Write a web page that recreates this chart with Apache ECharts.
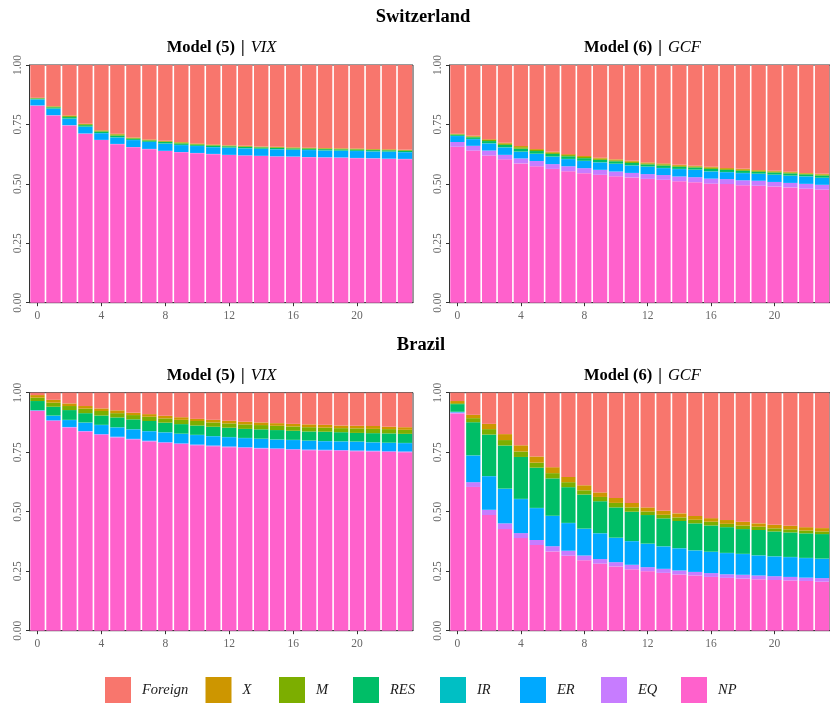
<!DOCTYPE html>
<html>
<head>
<meta charset="utf-8">
<script src="https://cdn.jsdelivr.net/npm/echarts@6/dist/echarts.min.js"></script>
<style>html,body{margin:0;padding:0;background:#fff}#c{width:830px;height:704px}</style>
</head>
<body>
<div id="c"></div>
<script>
// ---- categories / ticks ----
const horizons = ['0','1','2','3','4','5','6','7','8','9','10','11','12','13','14','15','16','17','18','19','20','21','22','23'];
const yTickLabels = ['0.00','0.25','0.50','0.75','1.00'];
const seriesNames = ['Foreign','X','M','RES','IR','ER','EQ','NP'];
const seriesColors = ['#F8766D','#CD9600','#7CAE00','#00BE67','#00BFC4','#00A9FF','#C77CFF','#FF61CC'];

// ---- Switzerland, Model (5) | VIX ----
const ch5_NP  = [0.829,0.788,0.746,0.711,0.684,0.667,0.654,0.646,0.638,0.633,0.629,0.625,0.621,0.619,0.617,0.615,0.614,0.612,0.611,0.610,0.608,0.607,0.605,0.604];
const ch5_EQ  = [0.001,0.001,0.001,0.001,0.001,0.001,0.001,0.001,0.001,0.001,0.001,0.001,0.001,0.001,0.001,0.001,0.001,0.001,0.001,0.001,0.001,0.001,0.001,0.001];
const ch5_ER  = [0.025,0.027,0.027,0.028,0.028,0.027,0.029,0.029,0.030,0.029,0.029,0.028,0.030,0.029,0.029,0.029,0.028,0.029,0.028,0.028,0.029,0.028,0.029,0.028];
const ch5_IR  = [0.001,0.001,0.001,0.001,0.001,0.001,0.001,0.001,0.001,0.001,0.001,0.001,0.001,0.001,0.001,0.001,0.001,0.001,0.001,0.001,0.001,0.001,0.001,0.001];
const ch5_RES = [0.003,0.005,0.006,0.006,0.006,0.007,0.005,0.005,0.006,0.006,0.005,0.006,0.005,0.005,0.005,0.005,0.005,0.005,0.005,0.005,0.005,0.005,0.005,0.005];
const ch5_M   = [0.002,0.003,0.004,0.004,0.004,0.005,0.003,0.003,0.003,0.004,0.003,0.003,0.003,0.003,0.003,0.003,0.003,0.003,0.003,0.003,0.003,0.003,0.003,0.003];
const ch5_X   = [0.001,0.002,0.003,0.002,0.002,0.003,0.002,0.002,0.002,0.002,0.002,0.002,0.001,0.002,0.001,0.002,0.002,0.001,0.002,0.002,0.002,0.002,0.002,0.001];
const ch5_F   = [0.138,0.173,0.212,0.247,0.274,0.289,0.305,0.313,0.319,0.324,0.330,0.334,0.338,0.340,0.343,0.344,0.346,0.348,0.349,0.350,0.351,0.353,0.354,0.357];

// ---- Switzerland, Model (6) | GCF ----
const ch6_NP  = [0.656,0.640,0.619,0.603,0.586,0.574,0.563,0.553,0.545,0.538,0.532,0.527,0.521,0.517,0.511,0.507,0.501,0.499,0.494,0.492,0.489,0.485,0.480,0.476];
const ch6_EQ  = [0.020,0.020,0.021,0.019,0.021,0.022,0.020,0.021,0.021,0.021,0.020,0.019,0.020,0.020,0.020,0.021,0.021,0.021,0.021,0.021,0.019,0.019,0.020,0.020];
const ch6_ER  = [0.025,0.028,0.030,0.031,0.028,0.030,0.031,0.030,0.030,0.031,0.032,0.031,0.031,0.029,0.031,0.031,0.030,0.029,0.030,0.029,0.030,0.030,0.031,0.029];
const ch6_IR  = [0.001,0.001,0.001,0.001,0.001,0.001,0.001,0.001,0.001,0.001,0.001,0.001,0.001,0.001,0.001,0.001,0.001,0.001,0.001,0.001,0.001,0.001,0.001,0.001];
const ch6_RES = [0.005,0.007,0.009,0.010,0.012,0.011,0.011,0.011,0.011,0.010,0.010,0.010,0.009,0.010,0.009,0.009,0.010,0.009,0.009,0.008,0.009,0.009,0.008,0.009];
const ch6_M   = [0.002,0.003,0.005,0.005,0.006,0.005,0.005,0.005,0.005,0.005,0.004,0.005,0.004,0.005,0.004,0.004,0.005,0.004,0.004,0.004,0.004,0.004,0.003,0.004];
const ch6_X   = [0.002,0.003,0.003,0.004,0.005,0.004,0.004,0.004,0.004,0.004,0.004,0.004,0.004,0.004,0.004,0.003,0.004,0.004,0.004,0.003,0.003,0.003,0.003,0.003];
const ch6_F   = [0.289,0.298,0.312,0.327,0.341,0.353,0.365,0.375,0.383,0.390,0.397,0.403,0.410,0.414,0.420,0.424,0.428,0.433,0.437,0.442,0.445,0.449,0.454,0.458];

// ---- Brazil, Model (5) | VIX ----
const br5_NP  = [0.923,0.881,0.853,0.836,0.823,0.812,0.803,0.795,0.789,0.784,0.779,0.775,0.771,0.768,0.765,0.763,0.760,0.758,0.757,0.756,0.754,0.753,0.751,0.750];
const br5_EQ  = [0.002,0.003,0.003,0.003,0.003,0.003,0.003,0.003,0.003,0.003,0.003,0.003,0.003,0.003,0.003,0.003,0.003,0.003,0.003,0.003,0.003,0.003,0.003,0.003];
const br5_ER  = [0.001,0.019,0.029,0.035,0.038,0.039,0.040,0.040,0.041,0.040,0.040,0.039,0.039,0.038,0.038,0.037,0.038,0.037,0.036,0.036,0.037,0.035,0.035,0.035];
const br5_IR  = [0.001,0.001,0.001,0.001,0.001,0.001,0.001,0.001,0.001,0.001,0.001,0.001,0.001,0.001,0.001,0.001,0.001,0.001,0.001,0.001,0.001,0.001,0.001,0.001];
const br5_RES = [0.038,0.037,0.041,0.039,0.039,0.041,0.041,0.042,0.040,0.040,0.039,0.039,0.039,0.038,0.039,0.039,0.038,0.038,0.039,0.038,0.036,0.038,0.039,0.038];
const br5_M   = [0.014,0.017,0.017,0.019,0.019,0.018,0.018,0.018,0.018,0.018,0.019,0.018,0.018,0.019,0.018,0.018,0.018,0.018,0.017,0.017,0.019,0.018,0.018,0.017];
const br5_X   = [0.011,0.012,0.011,0.011,0.011,0.012,0.010,0.011,0.011,0.011,0.009,0.011,0.011,0.011,0.011,0.011,0.011,0.012,0.012,0.011,0.011,0.012,0.010,0.011];
const br5_F   = [0.010,0.030,0.045,0.056,0.066,0.074,0.084,0.090,0.097,0.103,0.110,0.114,0.118,0.122,0.125,0.128,0.131,0.133,0.135,0.138,0.139,0.140,0.143,0.145];

// ---- Brazil, Model (6) | GCF ----
const br6_NP  = [0.913,0.604,0.486,0.427,0.389,0.360,0.333,0.315,0.296,0.282,0.270,0.258,0.250,0.243,0.236,0.232,0.226,0.222,0.219,0.216,0.213,0.211,0.209,0.206];
const br6_EQ  = [0.004,0.020,0.022,0.024,0.021,0.021,0.022,0.021,0.020,0.019,0.018,0.019,0.017,0.017,0.017,0.015,0.016,0.015,0.016,0.016,0.016,0.015,0.014,0.015];
const br6_ER  = [0.002,0.112,0.141,0.145,0.143,0.134,0.127,0.116,0.112,0.108,0.102,0.099,0.098,0.094,0.093,0.090,0.089,0.089,0.087,0.084,0.083,0.083,0.082,0.081];
const br6_IR  = [0.001,0.001,0.001,0.001,0.001,0.001,0.001,0.001,0.001,0.001,0.001,0.001,0.001,0.001,0.001,0.001,0.001,0.001,0.001,0.001,0.001,0.001,0.001,0.001];
const br6_RES = [0.032,0.139,0.174,0.181,0.176,0.169,0.157,0.150,0.143,0.134,0.127,0.123,0.120,0.117,0.114,0.113,0.110,0.108,0.104,0.106,0.104,0.103,0.103,0.103];
const br6_M   = [0.004,0.017,0.023,0.023,0.023,0.021,0.022,0.021,0.018,0.018,0.019,0.018,0.015,0.015,0.015,0.015,0.016,0.014,0.015,0.014,0.013,0.013,0.012,0.011];
const br6_X   = [0.009,0.014,0.022,0.025,0.026,0.026,0.025,0.022,0.021,0.019,0.021,0.019,0.017,0.017,0.017,0.016,0.015,0.016,0.016,0.014,0.015,0.015,0.014,0.014];
const br6_F   = [0.035,0.093,0.131,0.174,0.221,0.268,0.313,0.354,0.389,0.419,0.442,0.463,0.482,0.496,0.507,0.518,0.527,0.535,0.542,0.549,0.555,0.559,0.565,0.569];

const panels = [
  {F:ch5_F,X:ch5_X,M:ch5_M,RES:ch5_RES,IR:ch5_IR,ER:ch5_ER,EQ:ch5_EQ,NP:ch5_NP},
  {F:ch6_F,X:ch6_X,M:ch6_M,RES:ch6_RES,IR:ch6_IR,ER:ch6_ER,EQ:ch6_EQ,NP:ch6_NP},
  {F:br5_F,X:br5_X,M:br5_M,RES:br5_RES,IR:br5_IR,ER:br5_ER,EQ:br5_EQ,NP:br5_NP},
  {F:br6_F,X:br6_X,M:br6_M,RES:br6_RES,IR:br6_IR,ER:br6_ER,EQ:br6_EQ,NP:br6_NP}
];

const FONT = "'Liberation Serif','DejaVu Serif',serif";
const gridPos = [
  {left:29.5, top:65,    width:383.5, height:237.7},
  {left:449.5,top:65,    width:383.5, height:237.7},
  {left:29.5, top:392.7, width:383.5, height:238},
  {left:449.5,top:392.7, width:383.5, height:238}
];

const grids = gridPos.map(g => Object.assign({show:true, borderColor:'#333', borderWidth:1, backgroundColor:'transparent', containLabel:false}, g));

const xAxes = gridPos.map((g,i) => ({
  type:'category', gridIndex:i, data:horizons, boundaryGap:true,
  axisLine:{show:true, lineStyle:{color:'#333', width:1}},
  axisTick:{show:true, interval:3, alignWithLabel:true, length:3.5, lineStyle:{color:'#333'}},
  axisLabel:{interval:3, color:'#666', fontFamily:FONT, fontSize:11.5, margin:7},
  splitLine:{show:false}
}));
const yAxes = gridPos.map((g,i) => ({
  type:'value', gridIndex:i, min:0, max:1, interval:0.25,
  axisLine:{show:true, lineStyle:{color:'#333', width:1}},
  axisTick:{show:true, length:3.5, lineStyle:{color:'#333'}},
  axisLabel:{rotate:90, color:'#666', fontFamily:FONT, fontSize:11.5, margin:6,
    formatter: v => yTickLabels[Math.round(v/0.25)]},
  splitLine:{show:false}
}));

const keyOrder = ['NP','EQ','ER','IR','RES','M','X','F'];
const nameOf = {NP:'NP',EQ:'EQ',ER:'ER',IR:'IR',RES:'RES',M:'M',X:'X',F:'Foreign'};
const series = [];
panels.forEach((p,i) => {
  keyOrder.forEach(k => {
    const nm = nameOf[k];
    series.push({
      type:'bar', name:nm, xAxisIndex:i, yAxisIndex:i, stack:'s'+i,
      data:p[k], barCategoryGap:'10%', barWidth:'90%',
      itemStyle:{color:seriesColors[seriesNames.indexOf(nm)]},
      emphasis:{disabled:true}, animation:false
    });
  });
});

const legendX = [105,205.5,279,353,440,520,601,681];
const legends = seriesNames.map((nm,i) => ({
  data:[{name:nm, icon:'rect'}], left:legendX[i], top:677, padding:0,
  itemWidth:26, itemHeight:26, itemGap:0, selectedMode:false,
  textStyle:{fontFamily:FONT, fontStyle:'italic', fontSize:14.5, color:'#1a1a1a', padding:[0,0,0,6]}
}));

const rich = {
  b:{fontFamily:FONT, fontWeight:'bold', fontSize:16.5, fill:'#000'},
  i:{fontFamily:FONT, fontStyle:'italic', fontSize:16.5, fill:'#000'}
};
function ptitle(x,y,model,vname){
  return {type:'text', x:x, y:y, style:{text:'{b|Model ('+model+')}  {b||}  {i|'+vname+'}', rich:rich, align:'center', verticalAlign:'middle', textAlign:'center', textVerticalAlign:'middle', fill:'#000', fontFamily:FONT}};
}
const graphics = [
  {type:'text', x:423, y:17, style:{text:'Switzerland', fontFamily:FONT, fontWeight:'bold', fontSize:18.5, fill:'#000', align:'center', verticalAlign:'middle', textAlign:'center', textVerticalAlign:'middle'}},
  {type:'text', x:421, y:345, style:{text:'Brazil', fontFamily:FONT, fontWeight:'bold', fontSize:18.5, fill:'#000', align:'center', verticalAlign:'middle', textAlign:'center', textVerticalAlign:'middle'}},
  ptitle(221.5,47.5,5,'VIX'),
  ptitle(642.5,47.5,6,'GCF'),
  ptitle(221.5,375.5,5,'VIX'),
  ptitle(642.5,375.5,6,'GCF')
];

const chart = echarts.init(document.getElementById('c'), null, {renderer:'canvas'});
chart.setOption({
  animation:false,
  backgroundColor:'#fff',
  grid:grids, xAxis:xAxes, yAxis:yAxes,
  legend:legends,
  series:series,
  graphic:graphics
});
</script>
</body>
</html>
